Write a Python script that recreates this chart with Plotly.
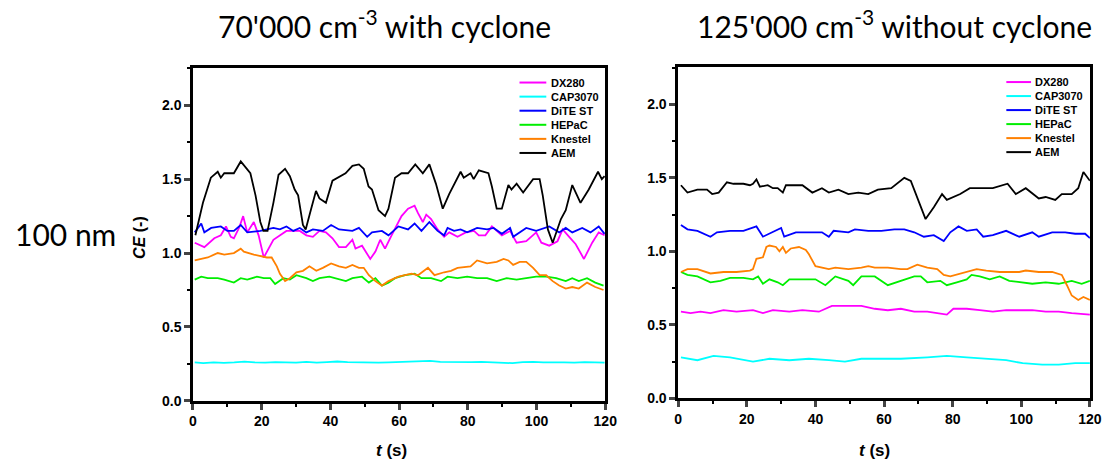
import plotly.graph_objects as go

# ---------------- data (t in s, CE in -) ----------------
names = ["DX280", "CAP3070", "DiTE ST", "HEPaC", "Knestel", "AEM"]
colors = ["#FF00FF", "#00FFFF", "#0000FF", "#00EE00", "#FF8000", "#000000"]

panel_titles = ["70'000 cm<sup>-3</sup> with cyclone", "125'000 cm<sup>-3</sup> without cyclone"]
row_label = "100 nm"
x_ticks = [0, 20, 40, 60, 80, 100, 120]
y_ticks = [0.0, 0.5, 1.0, 1.5, 2.0]
y_tick_text = ["0.0", "0.5", "1.0", "1.5", "2.0"]

# left panel: 70'000 cm-3 with cyclone
dx280_L = [(0.5,1.07),(3.3,1.04),(6.2,1.10),(8.1,1.12),(9.6,1.18),(11,1.11),(11.9,1.10),(13.4,1.17),(14.6,1.25),
           (15.8,1.14),(17.7,1.21),(19.1,1.12),(20.6,0.97),(23.4,1.09),(27.2,1.15),(31.1,1.15),(33,1.12),(34.9,1.11),
           (36.8,1.15),(38.7,1.14),(40.6,1.10),(42.5,1.04),(44.5,1.04),(46.4,1.09),(47.3,1.03),(49.2,1.05),(51.6,0.96),
           (53.1,1.01),(54.5,1.09),(55.9,1.03),(57.8,1.12),(59.8,1.21),(60.7,1.25),(62.6,1.30),(64.5,1.32),(65.5,1.27),
           (66.9,1.21),(67.9,1.26),(69.3,1.23),(71.2,1.16),(73.1,1.11),(74.6,1.14),(77,1.11),(79.4,1.14),(81.8,1.15),
           (83.2,1.12),(85.1,1.12),(87,1.18),(89.9,1.12),(92.3,1.15),(94.2,1.07),(97,1.08),(99.9,1.14),(101.4,1.07),
           (103.7,1.05),(106.1,1.08),(107.6,1.16),(109.5,1.11),(111.4,1.06),(113.8,0.96),(116.2,1.07),(118.1,1.14),(119.8,1.12)]
cap3070_L = [(0.5,0.26),(3,0.255),(6,0.26),(9,0.257),(12,0.26),(15,0.265),(18,0.26),(21,0.258),(24,0.262),(27,0.26),
             (30,0.258),(33,0.264),(36,0.258),(39,0.262),(42,0.266),(45,0.262),(48,0.26),(51,0.262),(54,0.258),(57,0.26),
             (60,0.262),(63,0.266),(66,0.268),(69,0.27),(72,0.264),(75,0.262),(78,0.26),(81,0.262),(84,0.264),(87,0.26),
             (90,0.258),(93,0.255),(96,0.262),(99,0.264),(102,0.26),(105,0.262),(108,0.26),(111,0.258),(114,0.262),
             (117,0.26),(119.8,0.258)]
ditest_L = [(0.5,1.14),(2.4,1.20),(3.3,1.14),(5.3,1.17),(8.1,1.18),(10,1.15),(11.9,1.15),(13.9,1.19),(15.8,1.14),
            (19.6,1.15),(23.4,1.17),(25.3,1.16),(27.2,1.18),(29.2,1.15),(31.1,1.17),(33,1.14),(34.9,1.16),(37.8,1.15),
            (40.2,1.19),(42.5,1.16),(46.4,1.15),(48.3,1.17),(50.7,1.11),(52.1,1.14),(55,1.15),(56.9,1.12),(59.8,1.18),
            (62.6,1.16),(64.5,1.20),(66.5,1.15),(68.8,1.21),(71.2,1.15),(73.1,1.12),(74.1,1.17),(76,1.15),(77.9,1.16),
            (79.8,1.14),(82.7,1.17),(85.6,1.16),(87.5,1.17),(89.9,1.13),(92.3,1.17),(93.2,1.11),(97,1.17),(99.9,1.15),
            (103.7,1.18),(106.6,1.14),(108.5,1.17),(110.4,1.14),(113.3,1.17),(115.7,1.14),(118.1,1.18),(119.8,1.13)]
hepac_L = [(0.5,0.82),(2.4,0.84),(4.3,0.83),(7.2,0.83),(9.1,0.82),(11.9,0.80),(13.9,0.83),(15.8,0.82),(18.6,0.84),
           (20.6,0.83),(22.5,0.83),(23.9,0.79),(26.3,0.83),(28.2,0.82),(30.1,0.85),(33,0.83),(34.9,0.81),(36.8,0.83),
           (39.7,0.84),(42.5,0.82),(44.5,0.81),(46.4,0.83),(49.2,0.84),(51.2,0.80),(53.1,0.83),(55,0.78),(56.9,0.80),
           (58.8,0.83),(61.7,0.85),(64.5,0.86),(66.5,0.83),(69.3,0.83),(72.2,0.81),(74.1,0.84),(77,0.83),(79.8,0.84),
           (82.7,0.83),(85.6,0.83),(88.4,0.81),(91.3,0.83),(94.2,0.82),(97,0.83),(99.9,0.84),(102.8,0.84),(105.7,0.83),
           (108.5,0.81),(110.4,0.83),(112.3,0.81),(114.7,0.83),(117.1,0.80),(119.5,0.78)]
knestel_L = [(0.5,0.95),(2.4,0.96),(4.3,0.97),(7.2,1.00),(9.1,0.99),(11.9,1.00),(13.9,1.03),(14.8,1.01),(17.7,0.99),
             (21.5,0.97),(22.9,0.97),(24.4,0.91),(25.3,0.86),(26.8,0.81),(28.2,0.83),(30.1,0.87),(32,0.88),(33.9,0.91),
             (35.9,0.88),(37.8,0.90),(40.2,0.93),(42.5,0.91),(44.5,0.90),(46.4,0.92),(48.3,0.90),(49.7,0.90),(51.2,0.85),
             (53.1,0.81),(55,0.78),(56.9,0.81),(59.8,0.84),(63.6,0.86),(65.5,0.85),(68.4,0.90),(70.3,0.85),(73.1,0.87),
             (75.1,0.88),(77,0.90),(80.8,0.91),(82.7,0.95),(85.6,0.93),(88.4,0.94),(90.4,0.96),(91.8,0.95),(93.2,0.92),
             (95.1,0.94),(97,0.94),(99,0.90),(100.9,0.85),(102.8,0.85),(104.7,0.81),(106.6,0.78),(108.5,0.76),
             (110.4,0.77),(112.3,0.76),(114.7,0.80),(117.1,0.77),(119.5,0.75)]
aem_L = [(0.7,1.12),(2.9,1.34),(5.2,1.51),(6.2,1.53),(7.2,1.55),(8.1,1.51),(9.1,1.54),(10.0,1.54),(11.9,1.54),(13.9,1.62),
         (15.8,1.57),(16.7,1.54),(18.2,1.39),(19.6,1.21),(20.5,1.15),(21.7,1.15),(23.4,1.34),(24.9,1.53),(26.8,1.57),
         (28.2,1.52),(29.6,1.43),(30.6,1.39),(32.0,1.19),(32.8,1.16),(34.4,1.30),(35.8,1.42),(36.8,1.37),(38.7,1.34),
         (40.6,1.49),(44.4,1.54),(46.4,1.59),(48.3,1.60),(49.7,1.57),(51.1,1.45),(52.1,1.43),(54.0,1.29),(55.9,1.25),
         (56.9,1.30),(58.8,1.51),(60.7,1.54),(62.6,1.54),(64.7,1.60),(66.9,1.54),(68.8,1.60),(70.7,1.47),(72.7,1.30),
         (74.6,1.40),(77.9,1.55),(78.8,1.51),(80.8,1.54),(81.7,1.50),(83.2,1.56),(86.0,1.54),(87.0,1.45),(88.4,1.30),
         (89.9,1.30),(91.8,1.46),(92.7,1.43),(94.2,1.47),(96.1,1.41),(99.0,1.50),(100.9,1.50),(101.8,1.39),(103.3,1.16),
         (104.7,1.07),(107.1,1.23),(108.5,1.29),(110.4,1.46),(112.8,1.34),(115.2,1.43),(117.9,1.55),(119.0,1.50),(119.8,1.52)]

# right panel: 125'000 cm-3 without cyclone
dx280_R = [(0.8,0.59),(3.6,0.58),(6.5,0.59),(9.4,0.58),(13.2,0.60),(17.0,0.59),(21.8,0.60),(24.7,0.58),(27.6,0.60),
           (32.4,0.59),(36.2,0.60),(41.0,0.59),(44.8,0.63),(49.6,0.63),(53.4,0.63),(57.3,0.61),(61.1,0.60),(64.9,0.61),
           (68.8,0.59),(72.6,0.59),(76.4,0.58),(78.3,0.57),(80.2,0.61),(84.1,0.61),(87.9,0.60),(91.7,0.59),(95.6,0.60),
           (99.4,0.60),(103.2,0.60),(107.1,0.59),(110.9,0.59),(114.7,0.58),(120.0,0.57)]
cap3070_R = [(0.8,0.28),(5.6,0.26),(10.3,0.29),(15.1,0.28),(21.8,0.25),(26.6,0.27),(32.4,0.26),(38.1,0.27),(43.9,0.26),
             (48.6,0.25),(53.4,0.27),(59.2,0.27),(64.9,0.27),(72.6,0.28),(78.3,0.29),(84.1,0.28),(89.8,0.27),(95.6,0.26),
             (100.4,0.24),(106.1,0.23),(110.9,0.23),(115.7,0.24),(120.0,0.24)]
ditest_R = [(0.8,1.18),(2.7,1.15),(5.6,1.14),(9.4,1.10),(11.3,1.13),(15.1,1.14),(19.0,1.14),(22.8,1.17),(24.7,1.10),
            (27.6,1.13),(30.0,1.16),(30.9,1.10),(34.3,1.13),(38.1,1.13),(41.9,1.13),(43.9,1.10),(45.3,1.14),(49.6,1.13),
            (51.5,1.15),(55.4,1.14),(59.2,1.14),(63.0,1.15),(65.9,1.15),(68.8,1.13),(71.6,1.10),(74.5,1.11),(77.4,1.07),
            (79.3,1.13),(81.7,1.17),(84.1,1.14),(87.0,1.15),(88.9,1.10),(91.7,1.11),(95.6,1.14),(99.4,1.10),(103.2,1.13),
            (105.1,1.10),(109.0,1.13),(112.8,1.13),(115.7,1.12),(118.6,1.12),(120.0,1.09)]
hepac_R = [(0.8,0.86),(2.7,0.84),(5.6,0.83),(9.4,0.79),(12.3,0.80),(15.1,0.82),(19.0,0.82),(21.8,0.81),(23.3,0.83),
           (24.7,0.78),(26.6,0.81),(29.0,0.79),(30.5,0.77),(32.4,0.81),(36.2,0.81),(40.0,0.81),(42.9,0.77),(45.8,0.83),
           (49.6,0.80),(51.0,0.77),(53.4,0.83),(57.3,0.83),(61.1,0.77),(64.9,0.80),(68.8,0.83),(70.7,0.83),(72.6,0.79),
           (76.4,0.80),(78.3,0.77),(81.2,0.79),(84.1,0.81),(85.5,0.84),(87.9,0.83),(90.8,0.81),(93.7,0.83),(96.5,0.80),
           (99.4,0.79),(103.2,0.78),(107.1,0.79),(110.9,0.78),(114.7,0.80),(117.6,0.78),(120.0,0.80)]
knestel_R = [(0.8,0.86),(2.7,0.88),(5.6,0.88),(9.4,0.85),(13.2,0.86),(17.0,0.86),(20.9,0.87),(21.8,0.88),(22.8,0.95),
             (24.7,0.96),(25.7,1.03),(26.6,1.04),(28.5,1.03),(29.5,1.00),(30.5,1.03),(31.4,0.99),(32.8,1.02),(35.2,1.03),
             (37.2,1.01),(38.1,0.98),(40.0,0.90),(41.9,0.89),(43.9,0.88),(45.8,0.89),(49.6,0.88),(53.4,0.89),(55.4,0.90),
             (57.3,0.89),(61.1,0.89),(64.9,0.88),(66.8,0.88),(69.7,0.91),(72.6,0.89),(75.5,0.88),(77.4,0.84),(79.3,0.83),
             (82.2,0.85),(85.0,0.87),(87.0,0.88),(89.8,0.87),(93.7,0.86),(97.5,0.86),(99.4,0.86),(101.3,0.87),(105.1,0.86),
             (109.0,0.86),(111.8,0.84),(113.3,0.77),(114.7,0.70),(116.6,0.67),(118.1,0.69),(120.0,0.67)]
aem_R = [(0.8,1.45),(2.7,1.40),(5.6,1.42),(8.4,1.42),(9.9,1.39),(11.8,1.40),(14.2,1.47),(16.1,1.46),(19.0,1.46),
         (20.9,1.45),(21.8,1.46),(22.8,1.49),(23.8,1.44),(26.1,1.45),(27.6,1.43),(29.0,1.43),(30.5,1.40),(31.4,1.45),
         (32.8,1.45),(36.2,1.45),(39.1,1.40),(41.9,1.43),(43.9,1.40),(46.7,1.42),(49.6,1.39),(52.5,1.40),(55.4,1.39),
         (58.2,1.42),(62.1,1.43),(65.9,1.50),(67.8,1.48),(69.7,1.37),(72.1,1.22),(74.5,1.30),(76.9,1.39),(78.3,1.35),
         (80.2,1.37),(82.2,1.39),(85.0,1.43),(87.9,1.43),(91.7,1.43),(96.0,1.46),(98.4,1.39),(101.3,1.43),(105.1,1.36),
         (107.1,1.37),(109.9,1.35),(111.8,1.39),(114.7,1.39),(116.6,1.43),(118.1,1.54),(120.0,1.48)]

panels = [
    [dx280_L, cap3070_L, ditest_L, hepac_L, knestel_L, aem_L],
    [dx280_R, cap3070_R, ditest_R, hepac_R, knestel_R, aem_R],
]

# ---------------- figure ----------------
fig = go.Figure()
axis_ids = [("x", "y"), ("x2", "y2")]
for p, series_list in enumerate(panels):
    xa, ya = axis_ids[p]
    for name, color, pts in zip(names, colors, series_list):
        fig.add_trace(go.Scatter(
            x=[a for a, b in pts], y=[b for a, b in pts], mode="lines", name=name,
            line=dict(color=color, width=1.8), xaxis=xa, yaxis=ya, showlegend=False))

tick_font = dict(family="Liberation Sans, Arial", size=14, color="black", weight="bold")
common_x = dict(range=[0, 120], tickvals=x_ticks, ticks="outside", ticklen=6, tickwidth=2.5,
                showline=True, linewidth=2.5, linecolor="black", mirror=True, showgrid=False,
                zeroline=False, tickfont=tick_font,
                minor=dict(dtick=10, ticks="outside", ticklen=3, tickwidth=2, tickcolor="black"))
common_y = dict(range=[0, 2.253], tickvals=y_ticks, ticktext=y_tick_text, ticks="outside", ticklen=6,
                tickwidth=2.5, showline=True, linewidth=2.5, linecolor="black", mirror=True, showgrid=False,
                zeroline=False, tickfont=tick_font,
                minor=dict(dtick=0.25, ticks="outside", ticklen=3, tickwidth=2, tickcolor="black"))

fig.update_layout(
    width=1118, height=473, margin=dict(l=0, r=0, t=0, b=0),
    paper_bgcolor="white", plot_bgcolor="white", showlegend=False,
    xaxis=dict(domain=[0.1715, 0.5456], anchor="y", **common_x),
    yaxis=dict(domain=[0.138, 0.854], anchor="x", **common_y),
    xaxis2=dict(domain=[0.6118, 0.9854], anchor="y2", **common_x),
    yaxis2=dict(domain=[0.1431, 0.8556], anchor="x2", **common_y),
)

big_font = dict(family="Lato, Noto Sans", size=30, color="black")
ann = []
ann.append(dict(text=panel_titles[0], x=0.3453, y=0.948, xref="paper", yref="paper",
                xanchor="center", yanchor="middle", showarrow=False, font=big_font))
ann.append(dict(text=panel_titles[1], x=0.8077, y=0.948, xref="paper", yref="paper",
                xanchor="center", yanchor="middle", showarrow=False, font=big_font))
ann.append(dict(text=row_label, x=0.0555, y=0.4968, xref="paper", yref="paper",
                xanchor="center", yanchor="middle", showarrow=False, font=big_font))
title_font = dict(family="Liberation Sans, Arial", size=16, color="black")
ann.append(dict(text="<b><i>CE</i> (-)</b>", x=0.1234, y=0.4905, xref="paper", yref="paper",
                xanchor="center", yanchor="middle", textangle=-90, showarrow=False, font=title_font))
for xc in (0.3515, 0.7898):
    ann.append(dict(text="<b><i>t</i> (s)</b>", x=xc, y=0.0317, xref="paper", yref="paper",
                    xanchor="center", yanchor="middle", showarrow=False,
                    font=dict(family="Liberation Sans, Arial", size=17, color="black")))

# legend (one per panel)
shapes = []
leg_font = dict(family="Liberation Sans, Arial", size=11, color="black")
leg_geo = [(0.792, 0.857, 0.864, 0.956, "x domain", "y domain"),
           (0.797, 0.857, 0.862, 0.955, "x2 domain", "y2 domain")]
for (lx0, lx1, tx, ytop, xr, yr) in leg_geo:
    for i, (name, color) in enumerate(zip(names, colors)):
        yy = ytop - i * 0.0423
        shapes.append(dict(type="line", xref=xr, yref=yr, x0=lx0, x1=lx1, y0=yy, y1=yy,
                           line=dict(color=color, width=2)))
        ann.append(dict(text="<b>" + name + "</b>", x=tx, y=yy, xref=xr, yref=yr,
                        xanchor="left", yanchor="middle", showarrow=False, font=leg_font))

fig.update_layout(annotations=ann, shapes=shapes)
fig.write_html("out.html", config={"displayModeBar": False},
               post_script="document.body.style.margin='0';document.body.style.padding='0';")
